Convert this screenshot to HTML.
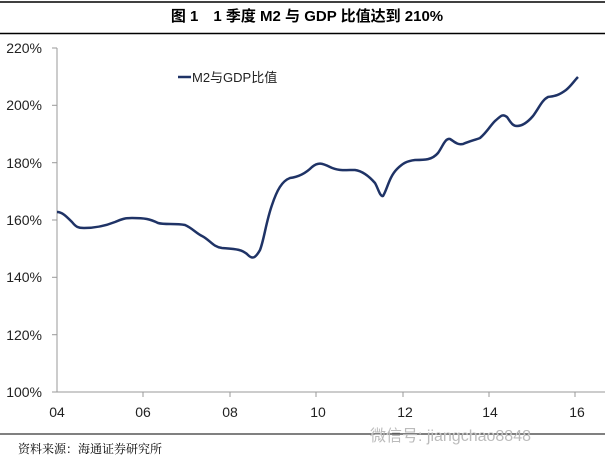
<!DOCTYPE html>
<html><head><meta charset="utf-8"><style>
body{margin:0;background:#fff;width:605px;height:464px;overflow:hidden;font-family:"Liberation Sans","Noto Sans CJK SC",sans-serif}
</style></head><body>
<svg width="605" height="464" viewBox="0 0 605 464" xmlns="http://www.w3.org/2000/svg">
<line x1="0" y1="2" x2="605" y2="2" stroke="#000" stroke-width="1.5"/>
<text x="307" y="21" text-anchor="middle" font-size="15" font-weight="bold" font-family="Liberation Sans,Noto Sans CJK SC,sans-serif">图 1　1 季度 M2 与 GDP 比值达到 210%</text>
<line x1="0" y1="33.5" x2="605" y2="33.5" stroke="#000" stroke-width="1.5"/>
<g stroke="#999" stroke-width="1">
<line x1="57" y1="48" x2="57" y2="392"/>
<line x1="57" y1="392" x2="605" y2="392"/>
<line x1="52" y1="48" x2="57" y2="48"/><line x1="52" y1="105.3" x2="57" y2="105.3"/><line x1="52" y1="162.7" x2="57" y2="162.7"/><line x1="52" y1="220" x2="57" y2="220"/><line x1="52" y1="277.3" x2="57" y2="277.3"/><line x1="52" y1="334.7" x2="57" y2="334.7"/><line x1="52" y1="392" x2="57" y2="392"/>
<line x1="143" y1="392" x2="143" y2="397"/><line x1="230" y1="392" x2="230" y2="397"/><line x1="316" y1="392" x2="316" y2="397"/><line x1="403" y1="392" x2="403" y2="397"/><line x1="489" y1="392" x2="489" y2="397"/><line x1="575" y1="392" x2="575" y2="397"/>
</g>
<g font-size="14" fill="#222" text-anchor="end">
<text x="42" y="53">220%</text><text x="42" y="110">200%</text><text x="42" y="168">180%</text><text x="42" y="225">160%</text><text x="42" y="282">140%</text><text x="42" y="340">120%</text><text x="42" y="397">100%</text>
</g>
<g font-size="14" fill="#222" text-anchor="middle">
<text x="57" y="417">04</text><text x="143" y="417">06</text><text x="230" y="417">08</text><text x="318" y="417">10</text><text x="405" y="417">12</text><text x="490" y="417">14</text><text x="577" y="417">16</text>
</g>
<line x1="178" y1="77" x2="191" y2="77" stroke="#1f3366" stroke-width="2.5"/>
<text x="192" y="82" font-size="13" fill="#222">M2与GDP比值</text>
<path d="M57,212 C62,212 66,216 72,222 C76,227 78,228 84,228 C95,228 105,226 115,222 C122,219 125,218 132,218 C145,218 150,219 158,223 C165,225 175,223 185,225 C192,228 196,233 202,236 C210,240 213,247 222,248 C235,249 242,249 248,255 C252,259 255,259 260,250 C264,240 266,222 272,205 C277,190 282,181 290,178 C298,177 305,174 312,167 C318,162 322,163 330,167 C338,171 345,170 355,170 C362,171 368,175 375,183 C378,188 380,197 383,196 C387,190 389,177 397,169 C403,163 407,161 415,160 C425,160 432,160 438,153 C443,146 445,138 450,139 C455,142 457,145 463,144 C470,141 475,140 480,138 C487,132 490,126 495,121 C500,117 502,113 507,117 C510,121 512,126 517,126 C522,126 527,123 533,116 C539,108 542,100 548,97 C554,96 558,96 566,90 C571,86 574,81 578,77" fill="none" stroke="#1f3366" stroke-width="2.5"/>
<line x1="0" y1="434" x2="605" y2="434" stroke="#000" stroke-width="1"/>
<text x="18" y="453" font-size="12" fill="#000" font-family="Liberation Serif,Noto Serif CJK SC,serif">资料来源：海通证券研究所</text>
<text x="370" y="441" font-size="16" fill="#bbb">微信号: jiangchao8848</text>
</svg>
</body></html>
